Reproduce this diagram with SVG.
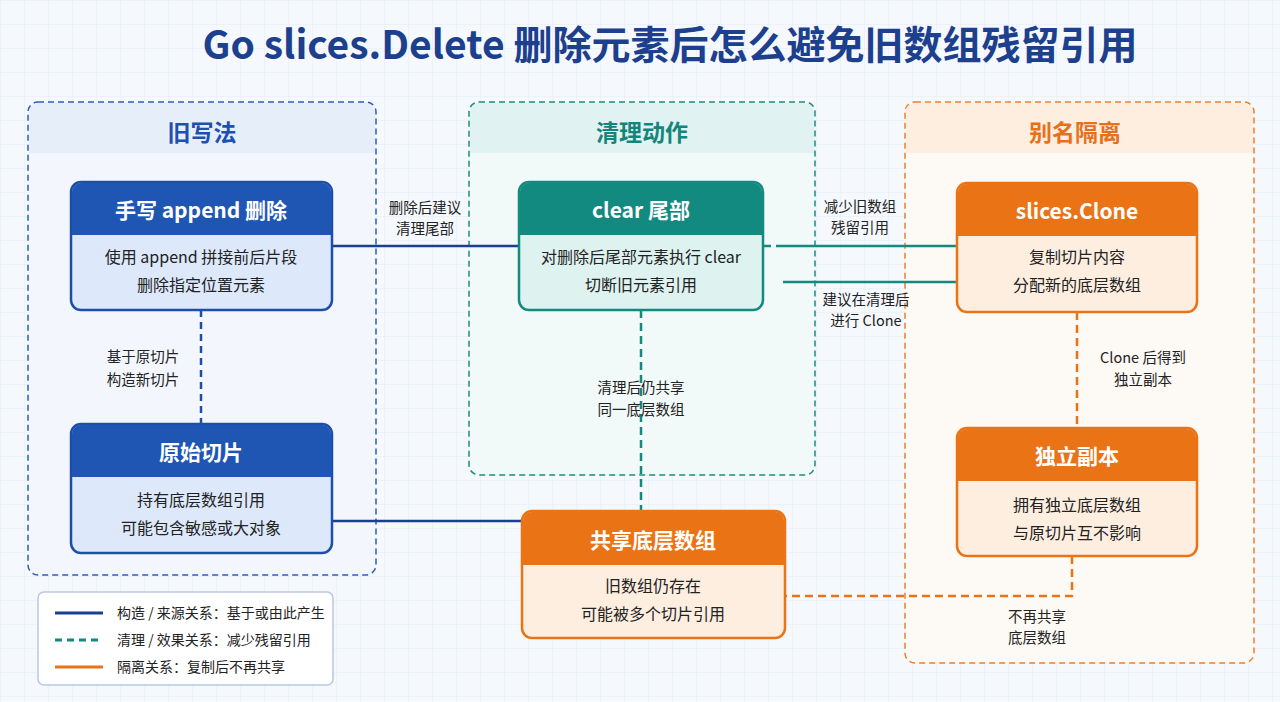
<svg xmlns="http://www.w3.org/2000/svg" width="1280" height="702" viewBox="0 0 1280 702">
<defs>
<pattern id="grid" width="24" height="24" patternUnits="userSpaceOnUse"><path d="M24 0H0V24" fill="none" stroke="#e6ecf5" stroke-width="1"/></pattern>
<style>
text{font-family:"Noto Sans CJK SC","Noto Sans",sans-serif;text-anchor:middle}
.t{font-size:39px;font-weight:700;fill:#1c3f8e}
.ph{font-size:23px;font-weight:700}
.nh{font-size:21px;font-weight:700;fill:#fff}
.nb{font-size:16px;fill:#222}
.lb{font-size:14.5px;fill:#222}
.lg{font-size:14px;fill:#222;text-anchor:start}
</style>
</defs>
<rect width="1280" height="702" fill="#f5f8fc"/>
<rect width="1280" height="702" fill="url(#grid)"/>
<text class="t" x="670" y="59">Go slices.Delete 删除元素后怎么避免旧数组残留引用</text>

<g id="panel-old">
<rect x="28" y="102" width="348" height="473" rx="10" fill="#f3f7fd" stroke="#2a5db8" stroke-width="1.5" stroke-dasharray="6 4"/>
<path d="M29 153V112a9 9 0 0 1 9-9h328a9 9 0 0 1 9 9v41z" fill="#e6eefa"/>
<text class="ph" x="202" y="141" fill="#1d50b0">旧写法</text>
</g>
<g id="panel-clear">
<rect x="469" y="102" width="346" height="373" rx="10" fill="#f2f9f9" stroke="#1a8c80" stroke-width="1.5" stroke-dasharray="6 4"/>
<path d="M470 153V112a9 9 0 0 1 9-9h326a9 9 0 0 1 9 9v41z" fill="#e0f2f1"/>
<text class="ph" x="642" y="141" fill="#13867b">清理动作</text>
</g>
<g id="panel-alias">
<rect x="905" y="102" width="349" height="561" rx="10" fill="#fdf9f5" stroke="#ef7d2a" stroke-width="1.5" stroke-dasharray="6 4"/>
<path d="M906 153V112a9 9 0 0 1 9-9h329a9 9 0 0 1 9 9v41z" fill="#fdeee0"/>
<text class="ph" x="1075" y="141" fill="#e8701a">别名隔离</text>
</g>

<g id="connectors" fill="none" stroke-width="2.5">
<path d="M332 246H519" stroke="#1a3f8f"/>
<path d="M201 310V424" stroke="#1e4fa8" stroke-dasharray="7 5"/>
<path d="M332 521H522" stroke="#1a3f8f"/>
<path d="M763 246H783" stroke="#138a80" stroke-dasharray="8 5"/>
<path d="M783 246H957" stroke="#138a80"/>
<path d="M783 282H957" stroke="#138a80"/>
<path d="M641 310V511" stroke="#138a80" stroke-dasharray="8 5"/>
<path d="M1077 312V428" stroke="#ea7316" stroke-dasharray="8 5"/>
<path d="M1072 556V596H763" stroke="#ea7316" stroke-dasharray="8 5"/>
</g>
<g id="labels">
<text class="lb" x="425" y="213">删除后建议</text><text class="lb" x="425" y="234">清理尾部</text>
<text class="lb" x="143" y="362">基于原切片</text><text class="lb" x="143" y="385">构造新切片</text>
<text class="lb" x="860" y="212">减少旧数组</text><text class="lb" x="860" y="233">残留引用</text>
<text class="lb" x="866" y="305">建议在清理后</text><text class="lb" x="866" y="326">进行 Clone</text>
<text class="lb" x="641" y="393">清理后仍共享</text><text class="lb" x="641" y="415">同一底层数组</text>
<text class="lb" x="1143" y="363">Clone 后得到</text><text class="lb" x="1143" y="385">独立副本</text>
<text class="lb" x="1037" y="622">不再共享</text><text class="lb" x="1037" y="643">底层数组</text>
</g>

<g id="node-append">
<rect x="71" y="182" width="261" height="128" rx="10" fill="#dde8fa" stroke="#1d4fa8" stroke-width="2.5"/>
<path d="M72 235V192a9 9 0 0 1 9-9h241a9 9 0 0 1 9 9v43z" fill="#1f56b4"/>
<text class="nh" x="201" y="218">手写 append 删除</text>
<text class="nb" x="201" y="263">使用 append 拼接前后片段</text>
<text class="nb" x="201" y="291">删除指定位置元素</text>
</g>
<g id="node-orig">
<rect x="71" y="424" width="261" height="129" rx="10" fill="#dde8fa" stroke="#1d4fa8" stroke-width="2.5"/>
<path d="M72 477V434a9 9 0 0 1 9-9h241a9 9 0 0 1 9 9v43z" fill="#1f56b4"/>
<text class="nh" x="201" y="460">原始切片</text>
<text class="nb" x="201" y="506">持有底层数组引用</text>
<text class="nb" x="201" y="534">可能包含敏感或大对象</text>
</g>
<g id="node-clear">
<rect x="519" y="182" width="244" height="128" rx="10" fill="#def2f0" stroke="#138a80" stroke-width="2.5"/>
<path d="M520 235V192a9 9 0 0 1 9-9h224a9 9 0 0 1 9 9v43z" fill="#138a80"/>
<text class="nh" x="641" y="218">clear 尾部</text>
<text class="nb" x="641" y="263">对删除后尾部元素执行 clear</text>
<text class="nb" x="641" y="291">切断旧元素引用</text>
</g>
<g id="node-shared">
<rect x="522" y="511" width="263" height="127" rx="10" fill="#fdeee0" stroke="#ea7316" stroke-width="2.5"/>
<path d="M523 565V521a9 9 0 0 1 9-9h243a9 9 0 0 1 9 9v44z" fill="#ea7316"/>
<text class="nh" x="653" y="548">共享底层数组</text>
<text class="nb" x="653" y="592">旧数组仍存在</text>
<text class="nb" x="653" y="620">可能被多个切片引用</text>
</g>
<g id="node-clone">
<rect x="957" y="183" width="240" height="129" rx="10" fill="#fdeee0" stroke="#ea7316" stroke-width="2.5"/>
<path d="M958 236V193a9 9 0 0 1 9-9h220a9 9 0 0 1 9 9v43z" fill="#ea7316"/>
<text class="nh" x="1077" y="219">slices.Clone</text>
<text class="nb" x="1077" y="263">复制切片内容</text>
<text class="nb" x="1077" y="291">分配新的底层数组</text>
</g>
<g id="node-copy">
<rect x="957" y="428" width="240" height="128" rx="10" fill="#fdeee0" stroke="#ea7316" stroke-width="2.5"/>
<path d="M958 481V438a9 9 0 0 1 9-9h220a9 9 0 0 1 9 9v43z" fill="#ea7316"/>
<text class="nh" x="1077" y="464">独立副本</text>
<text class="nb" x="1077" y="511">拥有独立底层数组</text>
<text class="nb" x="1077" y="539">与原切片互不影响</text>
</g>

<g id="legend">
<rect x="38" y="592" width="295" height="93" rx="6" fill="#fff" stroke="#b9c8e2" stroke-width="1.5"/>
<path d="M55 613H103" stroke="#1a3f8f" stroke-width="3"/>
<path d="M55 640H103" stroke="#138a80" stroke-width="3" stroke-dasharray="7 5"/>
<path d="M55 667H103" stroke="#ea7316" stroke-width="3"/>
<text class="lg" x="117" y="618">构造 / 来源关系：基于或由此产生</text>
<text class="lg" x="117" y="645">清理 / 效果关系：减少残留引用</text>
<text class="lg" x="117" y="672">隔离关系：复制后不再共享</text>
</g>
</svg>
